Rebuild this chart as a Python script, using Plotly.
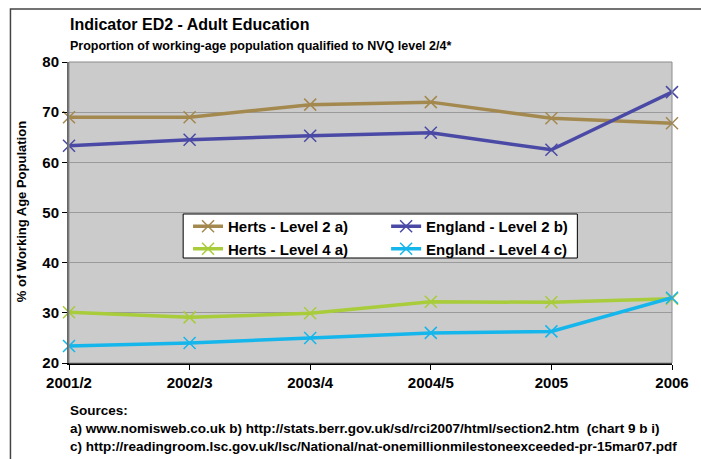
import plotly.graph_objects as go

categories = ["2001/2", "2002/3", "2003/4", "2004/5", "2005", "2006"]
herts_l2 = [69.0, 69.0, 71.5, 72.0, 68.8, 67.8]
england_l2 = [63.3, 64.5, 65.3, 65.9, 62.5, 74.0]
herts_l4 = [30.1, 29.1, 29.9, 32.2, 32.1, 32.8]
england_l4 = [23.4, 24.0, 25.0, 26.0, 26.3, 33.0]

series = [
    ("Herts - Level 2 a)", herts_l2, "#A4894F", "legend"),
    ("England - Level 2 b)", england_l2, "#4A4AA6", "legend2"),
    ("Herts - Level 4 a)", herts_l4, "#A8CC3A", "legend"),
    ("England - Level 4 c)", england_l4, "#14B6EC", "legend2"),
]

FONT = "Arial, Liberation Sans, sans-serif"
W, H = 701, 459
L, R, T, B = 69, 687, 62, 363
pw, ph = R - L, B - T


def px(x):
    return (x - L) / pw


def py(y):
    return (B - y) / ph


fig = go.Figure()
for name, vals, col, lg in series:
    fig.add_trace(go.Scatter(
        x=categories, y=vals, name=name, mode="lines+markers", legend=lg,
        line=dict(color=col, width=3.5),
        marker=dict(symbol="x-thin", size=12, line=dict(color=col, width=1.5), color=col),
        cliponaxis=False,
    ))

legend_style = dict(
    orientation="v", xanchor="left", yanchor="top",
    bgcolor="rgba(0,0,0,0)", borderwidth=0,
    font=dict(family=FONT, size=15, color="black", weight="bold"),
    tracegroupgap=0, itemwidth=30,
)

fig.update_layout(
    width=W, height=H,
    margin=dict(l=L, r=W - R, t=T, b=H - B),
    paper_bgcolor="white",
    plot_bgcolor="#CBCBCB",
    font=dict(family=FONT, color="black"),
    showlegend=True,
    legend=dict(x=px(191), y=py(210), **legend_style),
    legend2=dict(x=px(394), y=py(210), **legend_style),
    xaxis=dict(
        type="category", range=[0, 5], showgrid=False, zeroline=False,
        showline=True, linecolor="black", linewidth=1.5,
        ticks="outside", ticklen=5, tickcolor="black", tickwidth=1,
        tickfont=dict(family=FONT, size=15, color="black", weight="bold"),
    ),
    yaxis=dict(
        range=[20, 80], dtick=10, showgrid=True, gridcolor="#9A9A9A", gridwidth=1,
        zeroline=False, showline=True, linecolor="#666666", linewidth=2,
        ticks="outside", ticklen=5, tickcolor="black", tickwidth=1,
        tickfont=dict(family=FONT, size=15, color="black", weight="bold"),
    ),
)

# plot area border (top / right)
fig.add_shape(type="rect", xref="paper", yref="paper", x0=0, y0=0, x1=1, y1=1,
              line=dict(color="#8C8C8C", width=1), layer="above")
# legend box
fig.add_shape(type="rect", xref="paper", yref="paper", x0=px(186), y0=py(258), x1=px(590), y1=py(214),
              line=dict(color="black", width=1), fillcolor="white", layer="above")
# outer frame
fig.add_shape(type="rect", xref="paper", yref="paper", x0=px(9), y0=py(470), x1=px(720), y1=py(9),
              line=dict(color="#444444", width=1.5))

annos = [
    dict(text="<b>Indicator ED2 - Adult Education</b>", x=px(68), y=py(25), size=16),
    dict(text="<b>Proportion of working-age population qualified to NVQ level 2/4*</b>", x=px(68), y=py(46), size=12.5),
    dict(text="<b>Sources:</b>", x=px(68), y=py(410), size=13.5),
    dict(text="<b>a) www.nomisweb.co.uk b) http://stats.berr.gov.uk/sd/rci2007/html/section2.htm  (chart 9 b i)</b>", x=px(68), y=py(428), size=13.5),
    dict(text="<b>c) http://readingroom.lsc.gov.uk/lsc/National/nat-onemillionmilestoneexceeded-pr-15mar07.pdf</b>", x=px(68), y=py(446), size=13.5),
]
for a in annos:
    fig.add_annotation(text=a["text"], x=a["x"], y=a["y"], xref="paper", yref="paper",
                       xanchor="left", yanchor="middle", showarrow=False,
                       font=dict(family=FONT, size=a["size"], color="black"))

fig.add_annotation(text="<b>% of Working Age Population</b>", x=px(20), y=py(212),
                   xref="paper", yref="paper", xanchor="center", yanchor="middle",
                   textangle=-90, showarrow=False,
                   font=dict(family=FONT, size=13, color="black"))

fig.write_html("out.html")
